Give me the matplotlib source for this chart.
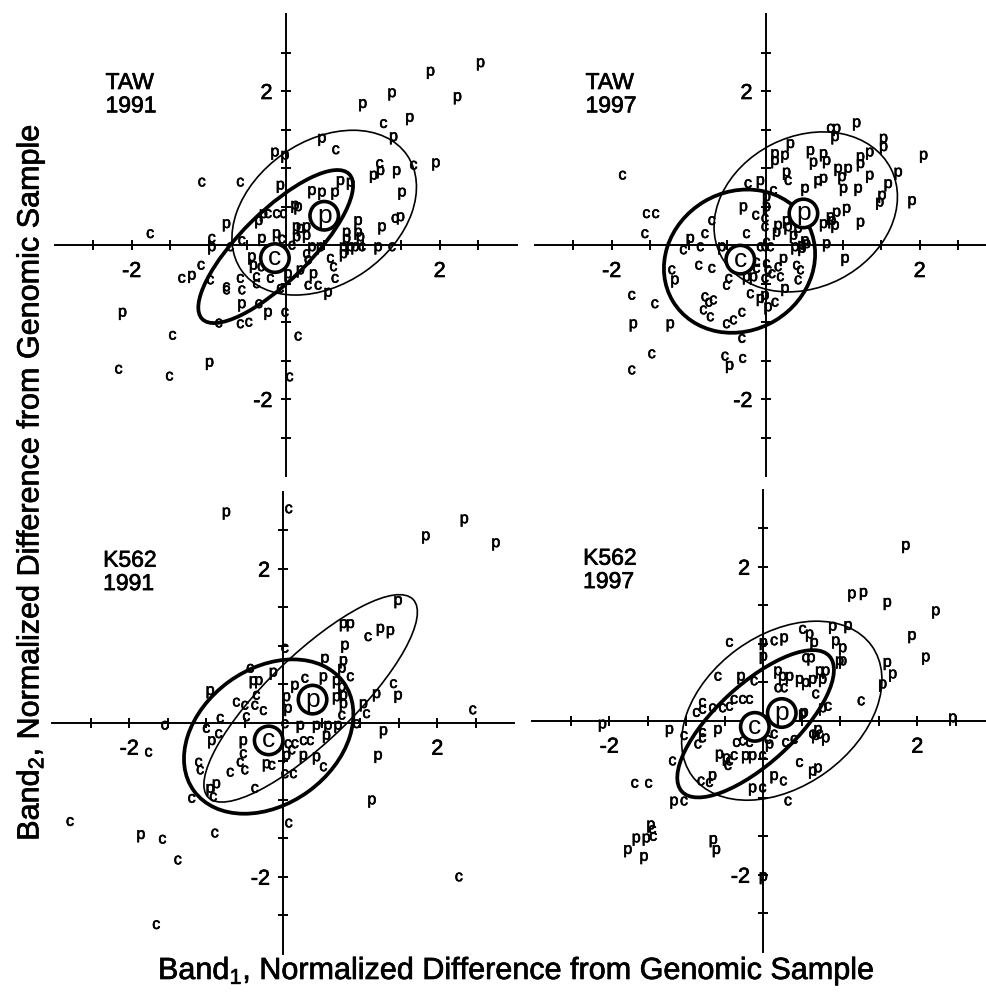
import matplotlib
matplotlib.use('Agg')
import matplotlib.pyplot as plt
import matplotlib.patheffects as pe
from matplotlib.patches import Ellipse, Circle

plt.rcParams['font.family'] = ['Liberation Sans', 'DejaVu Sans']
plt.rcParams['mathtext.fontset'] = 'custom'
plt.rcParams['mathtext.rm'] = 'Liberation Sans'
plt.rcParams['mathtext.it'] = 'Liberation Sans:italic'
plt.rcParams['axes.unicode_minus'] = False

# ---- 数据 (读自原图, 单位: 标准化差值) ----
# TAW 1991
taw91_c = [(1.27, 1.58), (0.65, 1.24), (1.22, 1.06), (1.66, 1.04), (1.42, 0.35), (-1.09, 0.82),
           (-0.59, 0.82), (-0.23, 0.41), (-0.12, 0.41), (-0.03, 0.41), (-0.57, 0.06), (-0.96, 0.09),
           (-0.72, -0.02), (0.99, -0.02), (1.38, -0.02), (0.08, 0.0), (0.27, -0.11), (0.29, -0.19),
           (0.58, -0.17), (0.62, -0.28), (0.64, -0.43), (0.29, -0.52), (0.42, -0.52), (-0.2, -0.43),
           (-0.07, -0.56), (-0.38, -0.41), (-0.38, -0.5), (-0.59, -0.43), (-0.57, -0.58), (-0.77, -0.54),
           (-0.77, -0.58), (-0.35, -0.76), (-0.59, -1.02), (-0.48, -1.0), (-0.87, -1.01), (-0.01, -0.87),
           (0.16, -1.18), (-1.35, -0.43), (-1.1, -0.26), (-0.98, -0.45), (-1.76, 0.15), (-1.47, -1.17),
           (-2.17, -1.61), (-1.51, -1.70), (0.05, -1.71), (-0.05, 0.08), (-0.32, -0.28)]
taw91_p = [(2.53, 2.37), (1.88, 2.26), (1.38, 1.98), (1.0, 1.84), (2.23, 1.93), (1.61, 1.66),
           (1.40, 1.41), (0.47, 1.39), (-0.14, 1.21), (-0.01, 1.17), (1.14, 0.91), (1.23, 0.97),
           (1.44, 0.97), (1.95, 1.07), (1.51, 0.69), (1.49, 0.37), (1.25, 0.24), (-0.07, 0.78),
           (0.71, 0.84), (0.84, 0.82), (0.34, 0.71), (0.47, 0.69), (0.64, 0.69), (0.12, 0.52),
           (0.16, 0.5), (-0.35, 0.32), (-0.29, 0.41), (-0.77, 0.28), (0.94, 0.32), (0.94, 0.17),
           (0.79, 0.17), (0.79, 0.09), (0.97, 0.11), (0.14, 0.24), (0.19, 0.22), (0.27, 0.24),
           (0.14, 0.11), (0.27, 0.13), (-0.12, 0.15), (-0.31, 0.09), (-0.96, -0.02), (0.34, -0.02),
           (0.45, -0.02), (0.75, -0.02), (0.84, -0.02), (0.9, -0.02), (1.2, -0.02), (0.75, -0.11),
           (0.55, -0.61), (0.36, -0.37), (0.19, -0.32), (0.03, -0.37), (-0.44, -0.15), (-0.42, -0.26),
           (-0.57, -0.76), (-0.23, -0.87), (-1.22, -0.39), (-2.12, -0.87), (-0.99, -1.52)]
taw91_ell_c = (-0.13, -0.02, 2.68, 0.90, 44.6)   # cx, cy, 宽, 高, 角度
taw91_ell_p = (0.50, 0.42, 2.62, 1.86, 35)
taw91_mean_c = (-0.14, -0.17)
taw91_mean_p = (0.50, 0.38)

# TAW 1997
taw97_c = [(0.84, 1.52), (0.29, 0.84), (-0.23, 0.8), (0.1, 0.71), (-0.13, 0.39), (-0.7, 0.32),
           (-0.79, 0.15), (-0.25, 0.15), (-0.01, 0.35), (-0.01, 0.24), (-0.07, -0.02), (-0.01, -0.02),
           (0.06, -0.02), (0.01, 0.04), (-1.07, -0.06), (-0.85, -0.02), (-0.87, -0.26), (-0.7, -0.3),
           (-1.22, -0.32), (-0.12, -0.22), (-0.12, -0.3), (0.01, -0.24), (0.03, -0.32), (-0.01, -0.43),
           (0.16, -0.28), (0.08, -0.37), (0.19, -0.41), (0.4, -0.26), (0.45, -0.32), (0.42, -0.45),
           (-0.51, -0.52), (-0.48, -0.43), (-0.2, -0.63), (0.12, -0.74), (-0.79, -0.67), (-0.74, -0.74),
           (-0.68, -0.71), (-0.81, -0.84), (-0.72, -0.93), (-0.51, -1.02), (-0.42, -0.97), (-0.31, -0.87),
           (-1.44, -0.76), (-1.86, 0.91), (-1.55, 0.41), (-1.43, 0.41), (-1.57, 0.15), (-1.74, -0.65),
           (-1.48, -1.41), (-1.74, -1.62), (-0.31, -1.21), (-0.53, -1.44), (-0.3, -1.47)]
taw97_p = [(0.92, 1.52), (1.18, 1.59), (0.9, 1.41), (0.32, 1.32), (0.12, 1.19), (0.12, 1.1),
           (0.25, 1.17), (0.58, 1.23), (0.75, 1.19), (0.79, 1.1), (0.62, 1.08), (0.94, 1.0),
           (1.07, 1.0), (0.99, 0.89), (0.75, 0.87), (0.68, 0.84), (1.23, 1.15), (1.23, 1.06),
           (1.35, 1.21), (1.53, 1.39), (1.53, 1.28), (1.35, 0.91), (0.27, 0.95), (-0.07, 0.84),
           (0.51, 0.74), (1.01, 0.74), (1.2, 0.74), (1.72, 0.95), (1.59, 0.8), (1.51, 0.65),
           (1.48, 0.56), (1.23, 0.3), (0.92, 0.43), (1.05, 0.48), (0.84, 0.37), (0.75, 0.28),
           (0.9, 0.26), (0.86, 0.32), (0.01, 0.63), (0.01, 0.5), (-0.29, 0.5), (0.16, 0.26),
           (0.14, 0.17), (0.27, 0.32), (0.29, 0.24), (0.36, 0.13), (0.42, 0.22), (0.51, 0.06),
           (0.53, 0.02), (0.47, 0.0), (-0.98, 0.09), (-0.57, -0.02), (0.38, -0.02), (0.47, -0.04),
           (0.79, 0.02), (1.03, -0.17), (-1.18, -0.45), (0.23, -0.17), (-0.25, -0.41), (-0.16, -0.41),
           (0.25, -0.56), (-0.07, -0.69), (-0.01, -0.65), (0.03, -0.8), (-1.24, -1.02), (-1.72, -1.02),
           (-0.47, -1.56), (2.05, 1.17), (1.9, 0.58)]
taw97_ell_c = (-0.34, -0.21, 2.02, 1.80, 31)
taw97_ell_p = (0.52, 0.43, 2.48, 1.96, 27)
taw97_mean_c = (-0.33, -0.19)
taw97_mean_p = (0.49, 0.41)

# K562 1991
k91_c = [(1.1, 1.12), (0.02, 0.97), (0.87, 0.6), (1.43, 0.51), (1.08, 0.12), (0.95, -0.01),
         (-0.43, 0.71), (0.28, 0.58), (0.76, 0.1), (-0.61, 0.27), (-0.5, 0.23), (-0.37, 0.23),
         (-0.26, 0.16), (-0.35, 0.36), (-0.82, 0.06), (-1.0, -0.07), (-0.84, -0.14), (-0.48, 0.08),
         (0.02, -0.01), (0.26, -0.23), (0.35, -0.23), (0.15, -0.27), (0.06, -0.27), (0.11, -0.35),
         (0.52, -0.57), (0.02, -0.66), (0.13, -0.66), (-0.52, -0.4), (-0.56, -0.51), (-0.5, -0.61),
         (-0.69, -0.64), (-0.15, -0.55), (-1.1, -0.51), (-1.08, -0.61), (-1.19, -0.98), (-0.91, -0.96),
         (-0.37, -0.85), (0.07, 2.78), (2.46, 0.17), (2.28, -2.0), (0.07, -1.3), (-1.65, -2.62),
         (-1.37, -1.78), (-1.57, -1.51), (-0.89, -1.43), (-2.77, -1.28), (-1.75, -0.38), (-1.54, -0.03)]
k91_p = [(1.49, 1.59), (0.78, 1.29), (0.87, 1.29), (1.26, 1.23), (1.39, 1.2), (0.8, 1.01),
         (0.54, 0.84), (0.78, 0.81), (0.76, 0.71), (1.21, 0.38), (1.49, 0.36), (1.04, 0.25),
         (1.3, -0.1), (1.23, -0.42), (1.15, -1.0), (-0.95, 0.42), (-0.39, 0.55), (-0.32, 0.55),
         (-0.13, 0.66), (0.52, 0.6), (0.69, 0.55), (0.76, 0.47), (0.78, 0.36), (0.69, 0.34),
         (0.15, 0.49), (0.04, 0.34), (0.06, 0.19), (0.78, 0.25), (-0.93, -0.23), (0.22, -0.03),
         (0.43, -0.03), (0.58, -0.03), (0.71, -0.03), (0.56, -0.16), (0.26, -0.42), (0.43, -0.44),
         (0.04, -0.42), (-0.52, -0.23), (-0.22, -0.53), (-0.87, -0.79), (-0.95, -0.85), (-0.74, 2.74),
         (1.85, 2.43), (2.35, 2.65), (2.76, 2.34), (-1.85, -1.45)]
k91_ell_c = (-0.19, -0.18, 2.40, 1.76, 36)
k91_ell_p = (0.355, 0.316, 3.70, 1.12, 44)
k91_mean_c = (-0.19, -0.23)
k91_mean_p = (0.38, 0.30)

# K562 1997
k97_c = [(0.51, 1.19), (-0.44, 1.02), (0.14, 1.04), (0.55, 0.82), (-0.59, 0.58), (-0.12, 0.52),
         (0.19, 0.43), (0.27, 0.43), (0.68, 0.35), (-0.38, 0.28), (-0.27, 0.28), (-0.18, 0.28),
         (-0.53, 0.17), (-0.44, 0.19), (-0.66, 0.17), (-0.79, 0.24), (-0.87, 0.11), (-0.79, 0.15),
         (0.84, 0.19), (-1.03, -0.19), (-0.79, -0.15), (-0.79, -0.22), (-0.85, -0.3), (-1.18, -0.52),
         (-0.44, -0.52), (-0.46, -0.58), (-0.38, -0.45), (-0.01, -0.45), (-0.35, -0.28), (-0.27, -0.26),
         (-0.18, -0.28), (0.14, -0.17), (0.06, -0.24), (0.29, -0.28), (0.4, -0.24), (0.64, -0.17),
         (0.73, -0.17), (0.47, -0.54), (0.26, -0.78), (-0.01, -0.87), (0.32, -1.04), (-0.81, -0.78),
         (-0.7, -0.8), (-1.03, -1.04), (1.27, 0.26), (-1.67, -0.81), (-1.49, -0.81), (-1.44, -1.41),
         (-1.43, -1.5)]
k97_p = [(0.9, 1.23), (1.1, 1.24), (0.6, 1.13), (0.66, 1.02), (0.94, 1.04), (1.03, 0.95),
         (0.99, 0.78), (1.03, 0.78), (1.61, 0.76), (1.68, 0.61), (1.55, 0.48), (0.0, 1.02),
         (0.27, 1.08), (0.0, 0.84), (0.62, 0.82), (-0.29, 0.58), (0.19, 0.65), (0.25, 0.58),
         (0.34, 0.58), (0.47, 0.54), (0.55, 0.5), (0.64, 0.54), (0.73, 0.65), (0.77, 0.54),
         (0.81, 0.65), (0.77, 0.17), (0.51, 0.09), (0.53, 0.11), (-1.22, -0.11), (-0.59, -0.11),
         (-0.57, -0.43), (-0.48, -0.48), (-0.23, -0.45), (-0.14, -0.45), (0.08, -0.3), (0.68, -0.19),
         (0.81, -0.22), (0.71, -0.11), (0.64, -0.65), (0.71, -0.61), (0.14, -0.71), (-0.14, -0.87),
         (-0.66, -0.71), (-1.16, -1.04), (1.85, 2.28), (1.15, 1.65), (1.3, 1.67), (1.61, 1.54),
         (2.24, 1.43), (1.93, 1.11), (2.11, 0.83), (2.46, 0.04), (-2.09, -0.04), (-0.65, -1.54),
         (-0.61, -1.67), (-1.46, -1.35), (-1.76, -1.67), (-1.65, -1.52), (-1.52, -1.52), (-1.55, -1.76),
         (0.0, -2.02)]
k97_ell_c = (-0.10, -0.04, 2.60, 1.02, 42.6)
k97_ell_p = (0.24, 0.13, 2.88, 1.97, 36)
k97_mean_c = (-0.11, -0.08)
k97_mean_p = (0.24, 0.10)

panel_names = ['TAW\n1991', 'TAW\n1997', 'K562\n1991', 'K562\n1997']
tick_major = [-2, 2]
tick_minor = [-2.5, -1.5, -1, -0.5, 0.5, 1, 1.5, 2.5]

panels = [
    (taw91_c, taw91_p, taw91_ell_c, taw91_ell_p, taw91_mean_c, taw91_mean_p),
    (taw97_c, taw97_p, taw97_ell_c, taw97_ell_p, taw97_mean_c, taw97_mean_p),
    (k91_c, k91_p, k91_ell_c, k91_ell_p, k91_mean_c, k91_mean_p),
    (k97_c, k97_p, k97_ell_c, k97_ell_p, k97_mean_c, k97_mean_p),
]

# 版面位置: 每个小图原点的像素位置
W, H = 986, 994
origins = [(285.7, 245.0), (765.7, 245.0), (283.3, 722.7), (763.3, 720.7)]
half = 231.0

# 模拟印刷字体的粗细
ink = [pe.withStroke(linewidth=0.45, foreground='black')]
ink_big = [pe.withStroke(linewidth=0.5, foreground='black')]

fig = plt.figure(figsize=(W / 100, H / 100), dpi=100)

for name, (cpts, ppts, ec, ep, mc, mp), (ox, oy) in zip(panel_names, panels, origins):
    ax = fig.add_axes([(ox - half) / W, (H - oy - half) / H, 2 * half / W, 2 * half / H])
    ax.set_xlim(-3, 3)
    ax.set_ylim(-3, 3)
    for s in ['top', 'right']:
        ax.spines[s].set_visible(False)
    ax.spines['left'].set_position('zero')
    ax.spines['bottom'].set_position('zero')
    for s in ['left', 'bottom']:
        ax.spines[s].set_linewidth(1.4)
    ax.set_xticks(tick_major)
    ax.set_yticks(tick_major)
    ax.set_xticks(tick_minor, minor=True)
    ax.set_yticks(tick_minor, minor=True)
    ax.set_xticklabels([str(t) for t in tick_major])
    ax.set_yticklabels([str(t) for t in tick_major])
    ax.tick_params(which='both', direction='inout', length=7, width=1.4, labelsize=15.5)
    ax.tick_params(axis='x', pad=8)
    ax.tick_params(axis='y', pad=6)
    for lab in ax.get_xticklabels() + ax.get_yticklabels():
        lab.set_path_effects(ink_big)
    ax.patch.set_visible(False)

    for x, y in cpts:
        ax.text(x, y, 'c', ha='center', va='center', fontsize=11.5, zorder=3, path_effects=ink)
    for x, y in ppts:
        ax.text(x, y, 'p', ha='center', va='center', fontsize=11.5, zorder=3, path_effects=ink)

    ax.add_patch(Ellipse(ec[:2], ec[2], ec[3], angle=ec[4], fill=False, lw=2.7, ec='black', zorder=4))
    ax.add_patch(Ellipse(ep[:2], ep[2], ep[3], angle=ep[4], fill=False, lw=1.2, ec='black', zorder=4))

    for (mx, my), lab in [(mc, 'c'), (mp, 'p')]:
        ax.add_patch(Circle((mx, my), 0.185, fc='white', ec='black', lw=2.6, zorder=5))
        ax.text(mx, my, lab, ha='center', va='center', fontsize=19, zorder=6)

    ax.text(-2.34, 2.26, name, ha='left', va='top', fontsize=16.5, linespacing=1.02,
            path_effects=ink_big)

fig.text(0.523, 0.023, r'Band$_1$, Normalized Difference from Genomic Sample',
         ha='center', va='center', fontsize=22, path_effects=ink_big)
fig.text(0.031, 0.514, r'Band$_2$, Normalized Difference from Genomic Sample',
         ha='center', va='center', fontsize=22, rotation=90, path_effects=ink_big)

fig.savefig('out.png', dpi=100)
